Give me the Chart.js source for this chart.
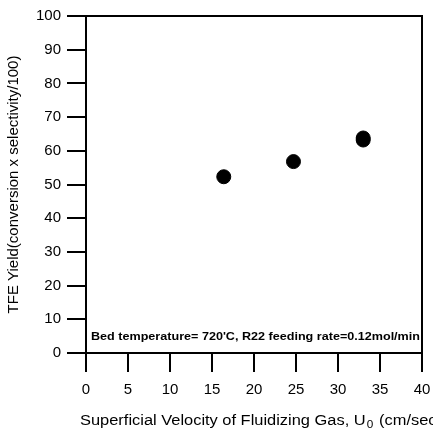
<!DOCTYPE html>
<html>
<head>
<meta charset="utf-8">
<script src="https://cdn.jsdelivr.net/npm/chart.js@4"></script>
<style>
  html, body { margin: 0; padding: 0; background: #fff; }
  #wrap { width: 433px; height: 435px; }
</style>
</head>
<body>
<div id="wrap"><canvas id="chart" width="433" height="435"></canvas></div>
<script>
// data
const velocity = [16.4, 24.7, 33.0, 33.0];
const tfeYield = [52.3, 56.8, 63.2, 63.8];
const xTicks = [0, 5, 10, 15, 20, 25, 30, 35, 40];
const yTicks = [0, 10, 20, 30, 40, 50, 60, 70, 80, 90, 100];

const yTitle = "TFE Yield(conversion x selectivity/100)";
const xTitleMain = "Superficial Velocity of Fluidizing Gas, U";
const xTitleSub = "0";
const xTitleEnd = " (cm/sec)";
const note = "Bed temperature= 720'C, R22 feeding rate=0.12mol/min";

const FONT = "'Liberation Sans', Arial, sans-serif";

// frame, note and x title with subscript
const extras = {
  id: "extras",
  afterDraw(chart) {
    const ctx = chart.ctx;
    const a = chart.chartArea;
    ctx.save();
    ctx.strokeStyle = "#000";
    ctx.lineWidth = 2;
    ctx.beginPath();
    ctx.moveTo(a.left, a.top);
    ctx.lineTo(a.right, a.top);
    ctx.lineTo(a.right, a.bottom);
    ctx.stroke();

    ctx.fillStyle = "#000";
    ctx.textBaseline = "middle";
    ctx.textAlign = "left";

    // note inside the plot, stretched to span the box like the scan
    ctx.save();
    ctx.font = "bold 11px " + FONT;
    const wNote = ctx.measureText(note).width;
    ctx.translate(a.left + 5, a.bottom - 16);
    ctx.scale((a.right - a.left - 7) / wNote, 1);
    ctx.fillText(note, 0, 0);
    ctx.restore();

    // x title, slightly stretched like the scan
    ctx.font = "14px " + FONT;
    const wMain = ctx.measureText(xTitleMain).width;
    const wEnd = ctx.measureText(xTitleEnd).width;
    ctx.font = "10px " + FONT;
    const wSub = ctx.measureText(xTitleSub).width + 2;
    const sx = 362 / (wMain + wSub + wEnd);
    ctx.translate(80, 421);
    ctx.scale(sx, 1);
    ctx.font = "14px " + FONT;
    ctx.fillText(xTitleMain, 0, 0);
    ctx.font = "10px " + FONT;
    ctx.fillText(xTitleSub, wMain + 1, 4);
    ctx.font = "14px " + FONT;
    ctx.fillText(xTitleEnd, wMain + wSub, 0);
    ctx.restore();
  }
};

new Chart(document.getElementById("chart"), {
  type: "scatter",
  data: {
    datasets: [{
      data: velocity.map((v, i) => ({ x: v, y: tfeYield[i] })),
      backgroundColor: "#000",
      borderColor: "#000",
      pointRadius: 7,
      pointHoverRadius: 7
    }]
  },
  options: {
    responsive: false,
    animation: false,
    layout: { padding: { top: 16, right: 11, left: 0, bottom: 0 } },
    plugins: { legend: { display: false }, tooltip: { enabled: false } },
    scales: {
      x: {
        type: "linear",
        min: 0, max: 40,
        afterBuildTicks: s => { s.ticks = xTicks.map(v => ({ value: v })); },
        afterFit: s => { s.height = 82; s.paddingLeft = 0; s.paddingRight = 0; },
        grid: { drawOnChartArea: false, tickLength: 19, color: "#000", lineWidth: 2 },
        border: { color: "#000", width: 2 },
        ticks: { color: "#000", font: { family: FONT, size: 15 }, padding: 9 }
      },
      y: {
        type: "linear",
        min: 0, max: 100,
        afterBuildTicks: s => { s.ticks = yTicks.map(v => ({ value: v })); },
        afterFit: s => { s.width = 86; s.paddingTop = 0; s.paddingBottom = 0; },
        grid: { drawOnChartArea: false, tickLength: 19, color: "#000", lineWidth: 2 },
        border: { color: "#000", width: 2 },
        ticks: { color: "#000", font: { family: FONT, size: 15 }, padding: 6 },
        title: { display: true, text: yTitle, color: "#000", font: { family: FONT, size: 15 }, padding: { top: 5, bottom: 0 } }
      }
    }
  },
  plugins: [extras]
});
</script>
</body>
</html>
